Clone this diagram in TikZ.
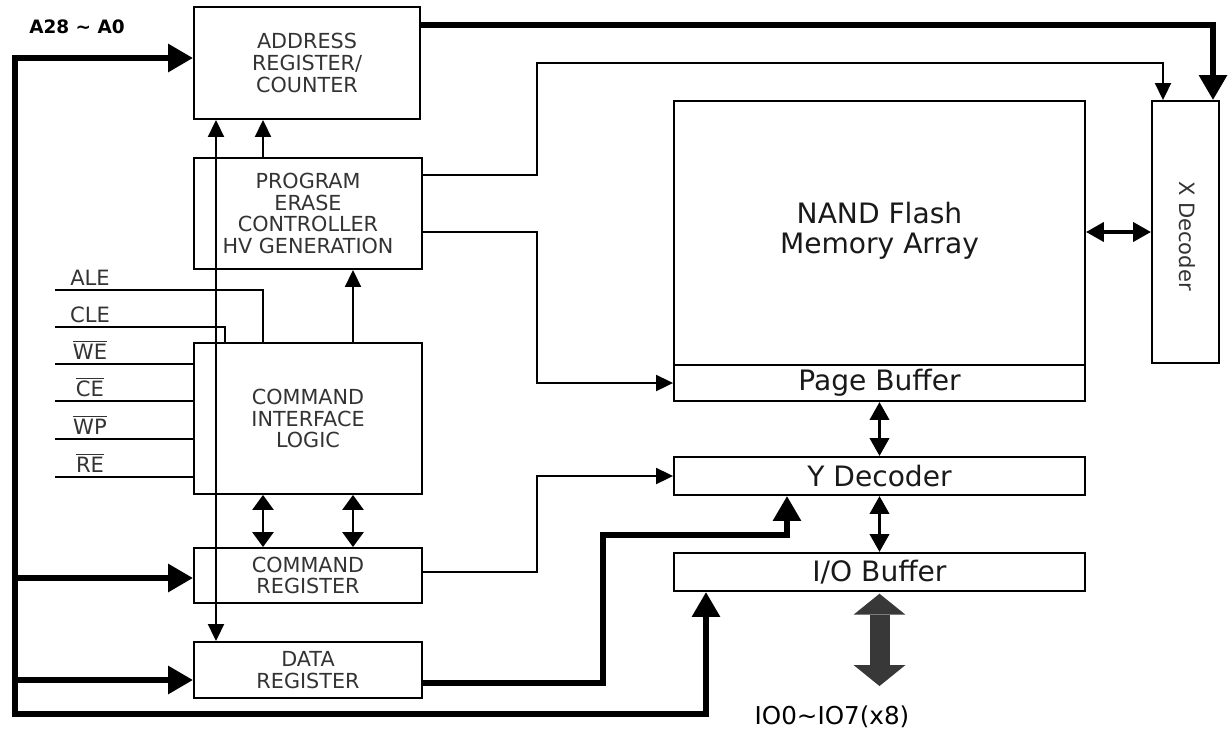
\documentclass[tikz,border=0pt]{standalone}
\usepackage{fontspec}
\setmainfont{DejaVu Sans}
\usepackage{tikz}
\usetikzlibrary{arrows.meta}

\newcommand{\barsig}[1]{$\overline{\mbox{#1}}$}

\begin{document}
\begin{tikzpicture}[x=0.02cm, y=-0.02cm,
    every node/.style={font=\fontsize{11.8}{12.4}\selectfont, text=black!80},
    blk/.style={draw, line width=1.1pt, align=center, inner sep=0pt},
    big/.style={font=\fontsize{16}{17}\selectfont, text=black!90},
    sig/.style={anchor=base, inner sep=0pt, font=\fontsize{12}{14}\selectfont},
    w/.style={line width=1.1pt},
    e/.style={w, -{Triangle[length=3.4mm, width=3.2mm]}},
    ee/.style={line width=1.6pt, {Triangle[length=3mm, width=4.2mm]}-{Triangle[length=3mm, width=4.2mm]}},
    bus/.style={line width=3.4pt, -{Triangle[length=5mm, width=5.4mm]}},
    dbus/.style={line width=2.2pt, {Triangle[length=3.6mm, width=3.8mm]}-{Triangle[length=3.6mm, width=3.8mm]}},
  ]
  \useasboundingbox (0,0) rectangle (1228,731);

  % left column
  \node[blk, minimum width=4.52cm, minimum height=2.24cm] (addr) at (307,63) {ADDRESS\\REGISTER/\\COUNTER};
  \node[blk, minimum width=4.56cm, minimum height=2.22cm] (pe) at (308,213.5) {PROGRAM\\ERASE\\CONTROLLER\\HV GENERATION};
  \node[blk, minimum width=4.56cm, minimum height=3.02cm] (cil) at (308,418.5) {COMMAND\\INTERFACE\\LOGIC};
  \node[blk, minimum width=4.56cm, minimum height=1.10cm] (creg) at (308,575.5) {COMMAND\\REGISTER};
  \node[blk, minimum width=4.56cm, minimum height=1.12cm] (dreg) at (308,670) {DATA\\REGISTER};

  % array side
  \node[blk, big, minimum width=8.22cm, minimum height=5.28cm, text depth=0.2cm] (mem) at (879.5,233) {NAND Flash\\Memory Array};
  \node[blk, big, minimum width=8.22cm, minimum height=0.72cm] (pbuf) at (879.5,383) {Page Buffer};
  \node[blk, big, minimum width=8.22cm, minimum height=0.76cm] (ydec) at (879.5,476) {Y Decoder};
  \node[blk, big, minimum width=8.22cm, minimum height=0.76cm] (io) at (879.5,572) {I/O Buffer};
  \node[blk, minimum width=1.34cm, minimum height=5.24cm] (xdec) at (1185.5,232) {};
  \node[rotate=-90, font=\fontsize{12}{14}\selectfont] (xlbl) at (1187,236) {X Decoder};

  % labels
  \node[font=\bfseries\fontsize{10.5}{12}\selectfont, text=black] (albl) at (77,27) {A28 \textasciitilde{} A0};
  \node[font=\fontsize{14}{16}\selectfont, text=black] (iolbl) at (832,717) {IO0\textasciitilde IO7(x8)};

  \coordinate (sale) at (55,290);
  \coordinate (scle) at (55,327);
  \coordinate (swe) at (55,364);
  \coordinate (sce) at (55,401);
  \coordinate (swp) at (55,439);
  \coordinate (sre) at (55,477);
  \node[sig] (lale) at (90,285) {ALE};
  \node[sig] (lcle) at (90,322) {CLE};
  \node[sig] (lwe) at (90,359) {\barsig{WE}};
  \node[sig] (lce) at (90,396) {\barsig{CE}};
  \node[sig] (lwp) at (90,434) {\barsig{WP}};
  \node[sig] (lre) at (90,472) {\barsig{RE}};

  % control signals
  \draw[w] (sale) -| (cil.north -| 263,0);
  \draw[w] (scle) -| (cil.north -| 225,0);
  \draw[w] (swe) -- (cil.west |- swe);
  \draw[w] (sce) -- (cil.west |- sce);
  \draw[w] (swp) -- (cil.west |- swp);
  \draw[w] (sre) -- (cil.west |- sre);

  % address / data bus
  \coordinate (bt) at (15,58);
  \coordinate (bb) at (15,714);
  \draw[bus, {Triangle[length=5mm, width=5.4mm]}-{Triangle[length=5mm, width=5.4mm]}] (addr.west |- bt) -- (bt) -- (bb) -| (io.south -| 706,0);
  \draw[bus] (bb |- 0,578) -- (creg.west |- 0,578);
  \draw[bus] (bb |- 0,680) -- (dreg.west |- 0,680);
  \draw[bus] (addr.east |- 0,25) -| (xdec.north -| 1213,0);
  \draw[bus] (dreg.east |- 0,683) -- (603,683) |- (787,535) -- (ydec.south -| 787,0);

  % internal wires
  \draw[w, {Triangle[length=3.4mm, width=3.2mm]}-{Triangle[length=3.4mm, width=3.2mm]}] (addr.south -| 216,0) -- (dreg.north -| 216,0);
  \draw[e] (pe.north -| 263,0) -- (addr.south -| 263,0);
  \draw[e] (cil.north -| 353,0) -- (pe.south -| 353,0);
  \draw[ee] (cil.south -| 263,0) -- (creg.north -| 263,0);
  \draw[ee] (cil.south -| 353,0) -- (creg.north -| 353,0);
  \draw[e] (pe.east |- 0,175) -| (537,63) -| (xdec.north -| 1163,0);
  \draw[e] (pe.east |- 0,232) -- (537,232) |- (pbuf.west);
  \draw[e] (creg.east |- 0,572) -- (537,572) |- (ydec.west);

  % array links
  \draw[dbus] (mem.east |- xdec.west) -- (xdec.west);
  \draw[dbus] (pbuf.south) -- (ydec.north);
  \draw[dbus] (ydec.south) -- (io.north);
  \coordinate (iob) at (879.5,686);
  \draw[line width=0.4cm, black!78, {Triangle[length=0.42cm, width=1.04cm, line width=0pt]}-{Triangle[length=0.42cm, width=1.04cm, line width=0pt]}] ([yshift=-1pt]io.south) -- (iob);
\end{tikzpicture}
\end{document}
